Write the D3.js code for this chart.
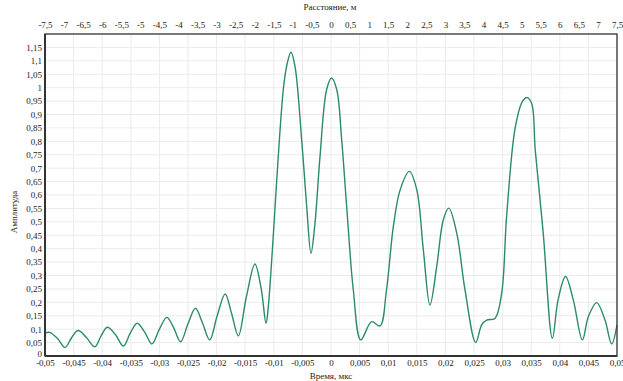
<!DOCTYPE html>
<html><head><meta charset="utf-8">
<script src="https://cdn.jsdelivr.net/npm/d3@7"></script>
<style>
body{margin:0;background:#fff;}
text{font-family:"Liberation Serif","Times New Roman",serif;fill:#222;}
</style></head><body>
<svg id="c" width="623" height="381"></svg>
<script>
// Data
const timeUs = [-0.05,-0.0492,-0.0478,-0.0465,-0.0453,-0.0442,-0.0428,-0.0413,-0.0402,-0.0391,-0.0377,-0.0363,-0.0351,-0.0339,-0.0326,-0.0313,-0.03,-0.0287,-0.0275,-0.0263,-0.025,-0.0237,-0.0225,-0.0212,-0.0199,-0.0185,-0.0174,-0.0162,-0.0148,-0.0133,-0.0122,-0.01136,-0.01096,-0.00834,-0.00764,-0.007,-0.0063,-0.00513,-0.00425,-0.0035,-0.0028,-0.00192,-0.00076,0.0001,0.001,0.00187,0.00274,0.0039,0.0052,0.0071,0.00857,0.0097,0.0109,0.0121,0.0137,0.015,0.01614,0.0173,0.01848,0.01963,0.0206,0.02198,0.02343,0.0253,0.02634,0.02722,0.02867,0.02984,0.0307,0.0322,0.0335,0.0343,0.0351,0.0357,0.0371,0.0387,0.0397,0.041,0.04236,0.04394,0.045,0.04645,0.0479,0.04907,0.05];
const amplitude = [0.085,0.088,0.065,0.032,0.07,0.095,0.07,0.034,0.075,0.107,0.08,0.037,0.085,0.122,0.09,0.045,0.10,0.144,0.105,0.053,0.12,0.178,0.125,0.06,0.15,0.231,0.16,0.075,0.22,0.343,0.25,0.122,0.184,0.993,1.092,1.132,1.08,0.806,0.557,0.383,0.495,0.744,0.993,1.036,0.993,0.806,0.557,0.246,0.06,0.128,0.112,0.246,0.483,0.62,0.688,0.619,0.396,0.19,0.333,0.507,0.551,0.458,0.246,0.05,0.116,0.134,0.14,0.234,0.52,0.85,0.95,0.963,0.94,0.769,0.458,0.066,0.209,0.296,0.209,0.06,0.147,0.199,0.134,0.045,0.116];
const bottomTicks = [-0.05,-0.045,-0.04,-0.035,-0.03,-0.025,-0.02,-0.015,-0.01,-0.005,0,0.005,0.01,0.015,0.02,0.025,0.03,0.035,0.04,0.045,0.05];
const topTicks = [-7.5,-7,-6.5,-6,-5.5,-5,-4.5,-4,-3.5,-3,-2.5,-2,-1.5,-1,-0.5,0,0.5,1,1.5,2,2.5,3,3.5,4,4.5,5,5.5,6,6.5,7,7.5];
const yTicks = [0,0.05,0.1,0.15,0.2,0.25,0.3,0.35,0.4,0.45,0.5,0.55,0.6,0.65,0.7,0.75,0.8,0.85,0.9,0.95,1,1.05,1.1,1.15];
const xTitle = "Время, мкс", topTitle = "Расстояние, м", yTitle = "Амплитуда";

const L=45,R=617,T=34,B=356;
const svg=d3.select("#c");
const x=d3.scaleLinear().domain([-0.05,0.05]).range([L,R]);
const xTop=d3.scaleLinear().domain([-7.5,7.5]).range([L,R]);
const y=d3.scaleLinear().domain([0,1.2]).range([B,T]);
const fmt=v=>String(+v.toFixed(4)).replace(".",",");

// grid
const g=svg.append("g");
g.selectAll(".vg").data(bottomTicks).join("line").attr("x1",d=>x(d)).attr("x2",d=>x(d)).attr("y1",T).attr("y2",B).attr("stroke","#ebebeb").attr("stroke-width",1);
g.selectAll(".hg").data(yTicks).join("line").attr("x1",L).attr("x2",R).attr("y1",d=>y(d)).attr("y2",d=>y(d)).attr("stroke","#ebebeb").attr("stroke-width",1);

// axes
const ax=svg.append("g").attr("transform",`translate(0,${B})`).call(d3.axisBottom(x).tickValues(bottomTicks).tickFormat(fmt).tickSize(0).tickPadding(4));
const at=svg.append("g").attr("transform",`translate(0,${T})`).call(d3.axisTop(xTop).tickValues(topTicks).tickFormat(fmt).tickSize(0).tickPadding(6));
const ay=svg.append("g").attr("transform",`translate(${L},0)`).call(d3.axisLeft(y).tickValues(yTicks).tickFormat(fmt).tickSize(0).tickPadding(3));
[ax,at,ay].forEach(a=>{a.select(".domain").remove();a.selectAll("text").attr("font-size","9px").attr("font-family","Liberation Serif").attr("fill","#222");});
ay.selectAll(".tick").filter(d=>d===0).select("text").attr("dy","0.1em");

// line
const line=d3.line().x((d,i)=>x(timeUs[i])).y(d=>y(d)).curve(d3.curveCatmullRom.alpha(0.5));
svg.append("path").datum(amplitude).attr("d",line).attr("fill","none").attr("stroke","#2b8a6c").attr("stroke-width",1.4);

// frame
svg.append("rect").attr("x",L).attr("y",T).attr("width",R-L).attr("height",B-T).attr("fill","none").attr("stroke","#333").attr("stroke-width",1.3);
svg.append("line").attr("x1",L).attr("x2",R).attr("y1",B).attr("y2",B).attr("stroke","#333").attr("stroke-width",2);
svg.append("line").attr("x1",L).attr("x2",L).attr("y1",T).attr("y2",B).attr("stroke","#333").attr("stroke-width",2);

// titles
svg.append("text").attr("x",331).attr("y",379).attr("text-anchor","middle").attr("font-size","9px").text(xTitle);
svg.append("text").attr("x",330).attr("y",10).attr("text-anchor","middle").attr("font-size","9px").text(topTitle);
svg.append("text").attr("transform","translate(17,212) rotate(-90)").attr("text-anchor","middle").attr("font-size","9px").text(yTitle);
</script></body></html>
